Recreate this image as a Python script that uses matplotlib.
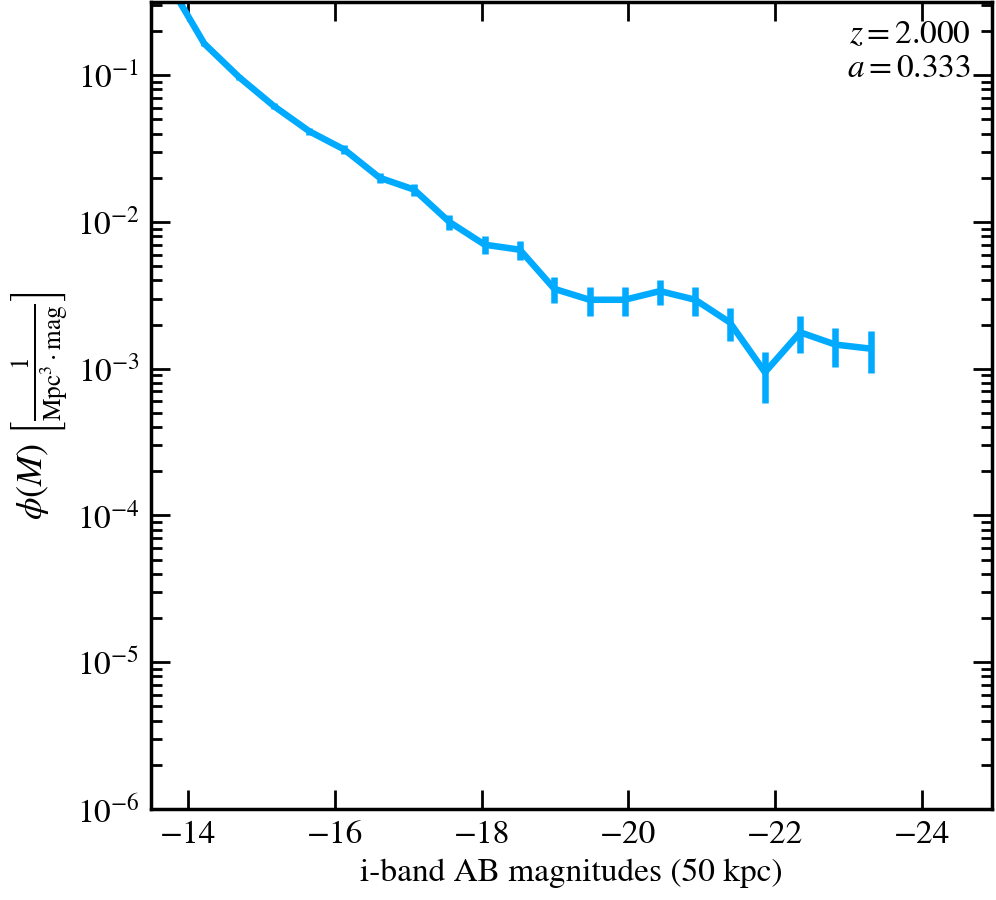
import matplotlib
matplotlib.use("Agg")
import matplotlib.pyplot as plt
from matplotlib.ticker import LogLocator, FixedLocator, NullLocator

mags = [-13.74, -14.22, -14.70, -15.17, -15.65, -16.13, -16.61, -17.08, -17.56, -18.04,
        -18.52, -18.99, -19.47, -19.95, -20.43, -20.91, -21.38, -21.86, -22.34, -22.82, -23.30]
phi = [0.42, 0.164, 0.0964, 0.0615, 0.0415, 0.0311, 0.0200, 0.0166, 0.0100, 0.0070,
       0.00647, 0.00350, 0.00295, 0.00295, 0.00338, 0.00295, 0.00207, 0.000946, 0.00177, 0.00146, 0.00137]
phi_err = [0.0075, 0.0047, 0.0036, 0.0029, 0.0024, 0.0021, 0.0016, 0.0015, 0.00116, 0.00097,
           0.00093, 0.0007, 0.00065, 0.00065, 0.00065, 0.00065, 0.00052, 0.00036, 0.0005, 0.00044, 0.00043]

plt.rcParams['font.family'] = ['STIXGeneral', 'DejaVu Serif']
plt.rcParams['mathtext.fontset'] = 'stix'
plt.rcParams['font.size'] = 24

fig = plt.figure(figsize=(9.96, 9.0), dpi=100)
ax = fig.add_axes([0.1513, 0.1011, 0.9957 - 0.1513, 0.998 - 0.1011])

ax.errorbar(mags, phi, yerr=phi_err, color='#00AAFF', lw=4.7, elinewidth=4.7, capsize=0)

ax.set_yscale('log')
ax.set_ylim(1e-6, 10 ** -0.5)
ax.set_xlim(-13.49, -24.95)
ax.xaxis.set_major_locator(FixedLocator([-14, -16, -18, -20, -22, -24]))
ax.xaxis.set_minor_locator(NullLocator())
ax.yaxis.set_major_locator(LogLocator(base=10, numticks=20))
ax.yaxis.set_minor_locator(LogLocator(base=10, subs=range(2, 10), numticks=20))

for s in ax.spines.values():
    s.set_linewidth(2.5)
ax.tick_params(which='both', direction='in', top=True, right=True, width=2)
ax.tick_params(which='major', length=14, labelsize=24, pad=8)
ax.tick_params(which='minor', length=8)

ax.set_xlabel('i-band AB magnitudes (50 kpc)', fontsize=24, labelpad=6)
ax.set_ylabel(r'$\phi(M)\ \left[\frac{1}{\mathrm{Mpc}^3\cdot\mathrm{mag}}\right]$', fontsize=26, labelpad=4)

ax.text(0.975, 0.976, '$z = 2.000$\n$a = 0.333$', transform=ax.transAxes,
        ha='right', va='top', fontsize=24, linespacing=1.2)

fig.savefig('out.png', dpi=100)
